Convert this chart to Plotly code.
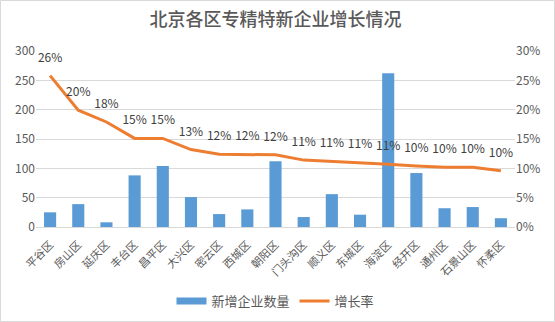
import plotly.graph_objects as go

# 北京各区专精特新企业增长情况
districts = ["平谷区", "房山区", "延庆区", "丰台区", "昌平区", "大兴区", "密云区", "西城区", "朝阳区",
             "门头沟区", "顺义区", "东城区", "海淀区", "经开区", "通州区", "石景山区", "怀柔区"]
new_firms = [25, 39, 8, 88, 104, 51, 22, 30, 112, 17, 56, 21, 262, 92, 32, 34, 15]
growth_rate = [0.258, 0.199, 0.179, 0.151, 0.151, 0.132, 0.124, 0.124, 0.123,
               0.114, 0.112, 0.110, 0.107, 0.104, 0.102, 0.102, 0.096]

BLUE = "#5B9BD5"
ORANGE = "#ED7D31"
GREY_TEXT = "#595959"
GRID = "#D9D9D9"
FONT = "Noto Sans CJK SC, sans-serif"

fig = go.Figure()

fig.add_trace(go.Bar(
    x=districts, y=new_firms, name="新增企业数量",
    marker=dict(color=BLUE, line=dict(width=0)),
    showlegend=False, yaxis="y",
))

# legend entry drawn as a wide stroke for the bar series
fig.add_trace(go.Scatter(
    x=[None], y=[None], mode="lines", name="新增企业数量",
    line=dict(color=BLUE, width=7), yaxis="y",
))

fig.add_trace(go.Scatter(
    x=districts, y=growth_rate, name="增长率",
    mode="lines+markers+text",
    line=dict(color=ORANGE, width=3),
    marker=dict(size=16, color="rgba(0,0,0,0)"),
    text=growth_rate, texttemplate="%{y:.0%}", textposition="top center",
    textfont=dict(size=12, color="#404040", family=FONT),
    yaxis="y2",
))

L, R, T, B = 36, 40, 51, 95
W, H = 555, 322
pw, ph = W - L - R, H - T - B

fig.update_layout(
    width=W, height=H,
    margin=dict(l=L, r=R, t=T, b=B, autoexpand=False),
    paper_bgcolor="white", plot_bgcolor="white",
    font=dict(family=FONT, color=GREY_TEXT, size=12),
    title=dict(text="北京各区专精特新企业增长情况", x=0.5, xref="paper", xanchor="center",
               y=1 - 20 / H, yanchor="middle",
               font=dict(size=18, color=GREY_TEXT, family=FONT, weight=500)),
    bargap=0.57,
    xaxis=dict(tickangle=-45, tickfont=dict(size=11, color=GREY_TEXT), automargin=False,
               range=[-0.5, len(districts) - 0.5], ticklabelstandoff=6,
               showline=True, linecolor=GRID, linewidth=1, ticks="", showgrid=False),
    yaxis=dict(range=[0, 300], dtick=50, showgrid=True, gridcolor=GRID, gridwidth=1,
               zeroline=False, ticks="", automargin=False,
               tickfont=dict(size=12, color=GREY_TEXT)),
    yaxis2=dict(range=[0, 0.3], dtick=0.05, tickformat=".0%", overlaying="y", side="right",
                showgrid=False, zeroline=False, ticks="", automargin=False,
                tickfont=dict(size=12, color=GREY_TEXT)),
    legend=dict(orientation="h", x=0.5, xanchor="center", y=(T + ph - 301) / ph,
                yanchor="middle", font=dict(size=13, color=GREY_TEXT, family=FONT),
                itemwidth=30, bgcolor="rgba(0,0,0,0)"),
    shapes=[dict(type="rect", xref="paper", yref="paper",
                 x0=(0.5 - L) / pw, x1=(W - 0.5 - L) / pw,
                 y0=(T + ph - (H - 0.5)) / ph, y1=(T + ph - 0.5) / ph,
                 line=dict(color=GRID, width=1), fillcolor="rgba(0,0,0,0)", layer="below")],
)

fig.write_html("out.html")
